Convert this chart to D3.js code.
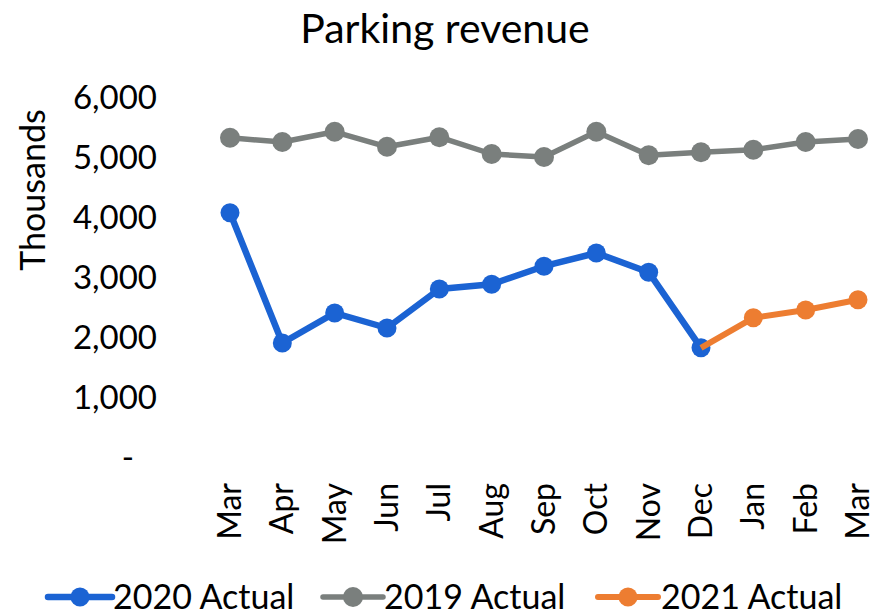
<!DOCTYPE html>
<html>
<head>
<meta charset="utf-8">
<script src="https://cdn.jsdelivr.net/npm/d3@7"></script>
<style>
  html, body { margin: 0; padding: 0; background: #fff; }
  svg { display: block; font-family: Lato, "Noto Sans", sans-serif; }
</style>
</head>
<body>
<svg id="chart" width="876" height="615"></svg>
<script>
const months = ["Mar","Apr","May","Jun","Jul","Aug","Sep","Oct","Nov","Dec","Jan","Feb","Mar"];
const values2020 = [4070, 1900, 2400, 2150, 2800, 2880, 3180, 3400, 3080, 1820, null, null, null];
const values2019 = [5320, 5250, 5420, 5170, 5330, 5050, 5000, 5420, 5030, 5080, 5120, 5250, 5300];
const values2021 = [null, null, null, null, null, null, null, null, null, 1820, 2320, 2450, 2620];
const yTicks = [0, 1000, 2000, 3000, 4000, 5000, 6000];
const seriesNames = ["2020 Actual", "2019 Actual", "2021 Actual"];
const seriesColors = ["#1b63d3", "#7a7f7d", "#ed7d31"];

const svg = d3.select("#chart");

const x = d3.scalePoint().domain(d3.range(months.length)).range([230, 858]);
const y = d3.scaleLinear().domain([0, 6000]).range([457, 97]);

// title
svg.append("text").attr("x", 445).attr("y", 43).attr("text-anchor", "middle")
  .attr("font-size", 41).attr("fill", "#000").text("Parking revenue");

// y axis title
svg.append("text").attr("transform", "translate(45,190) rotate(-90)")
  .attr("text-anchor", "middle").attr("font-size", 34).attr("fill", "#000").text("Thousands");

// y axis (labels only)
const yAxis = d3.axisLeft(y).tickValues(yTicks).tickSize(0).tickPadding(0)
  .tickFormat(d => d === 0 ? "-" : d3.format(",")(d));
const gy = svg.append("g").attr("transform", "translate(157,0)").call(yAxis);
gy.select(".domain").remove();
gy.selectAll("text").attr("font-size", 33).attr("fill", "#000").attr("font-family", "Lato, sans-serif")
  .attr("dy", "0.36em");
gy.selectAll(".tick").filter(d => d === 0).select("text").attr("dx", -23);

// x axis (labels only)
const xAxis = d3.axisBottom(x).tickSize(0).tickPadding(0).tickFormat(i => months[i]);
const gx = svg.append("g").attr("transform", "translate(0,483)").call(xAxis);
gx.select(".domain").remove();
gx.selectAll("text").attr("font-size", 32).attr("fill", "#000").attr("font-family", "Lato, sans-serif")
  .attr("transform", "rotate(-90)").attr("text-anchor", "end")
  .attr("x", 0).attr("y", 0).attr("dy", "0.33em");

// series
const series = [
  {name: seriesNames[0], color: seriesColors[0], vals: values2020, lw: 6.5, r: 9.5},
  {name: seriesNames[1], color: seriesColors[1], vals: values2019, lw: 5.5, r: 10},
  {name: seriesNames[2], color: seriesColors[2], vals: values2021, lw: 6, r: 9.5}
];
const drawOrder = [1, 0, 2];
const line = d3.line().defined(d => d.v != null).x(d => x(d.i)).y(d => y(d.v));
drawOrder.forEach(k => {
  const s = series[k];
  const pts = s.vals.map((v, i) => ({i, v}));
  svg.append("path").datum(pts).attr("d", line).attr("fill", "none")
    .attr("stroke", s.color).attr("stroke-width", s.lw).attr("stroke-linejoin", "round");
  const shownPts = pts.filter(d => d.v != null && !(k === 2 && d.i === 9));
  svg.append("g").selectAll("circle").data(shownPts).join("circle")
    .attr("cx", d => x(d.i)).attr("cy", d => y(d.v)).attr("r", s.r).attr("fill", s.color);
});

// legend
const legendItems = [
  {k: 0, x0: 48, x1: 112, tx: 113},
  {k: 1, x0: 323, x1: 383, tx: 384},
  {k: 2, x0: 598, x1: 658, tx: 661}
];
const ly = 597;
legendItems.forEach(it => {
  const s = series[it.k];
  const g = svg.append("g");
  g.append("line").attr("x1", it.x0).attr("x2", it.x1).attr("y1", ly).attr("y2", ly)
    .attr("stroke", s.color).attr("stroke-width", s.lw).attr("stroke-linecap", "round");
  g.append("circle").attr("cx", (it.x0 + it.x1) / 2).attr("cy", ly).attr("r", s.r).attr("fill", s.color);
  g.append("text").attr("x", it.tx).attr("y", 609).attr("font-size", 34).attr("fill", "#000").text(s.name);
});
</script>
</body>
</html>
